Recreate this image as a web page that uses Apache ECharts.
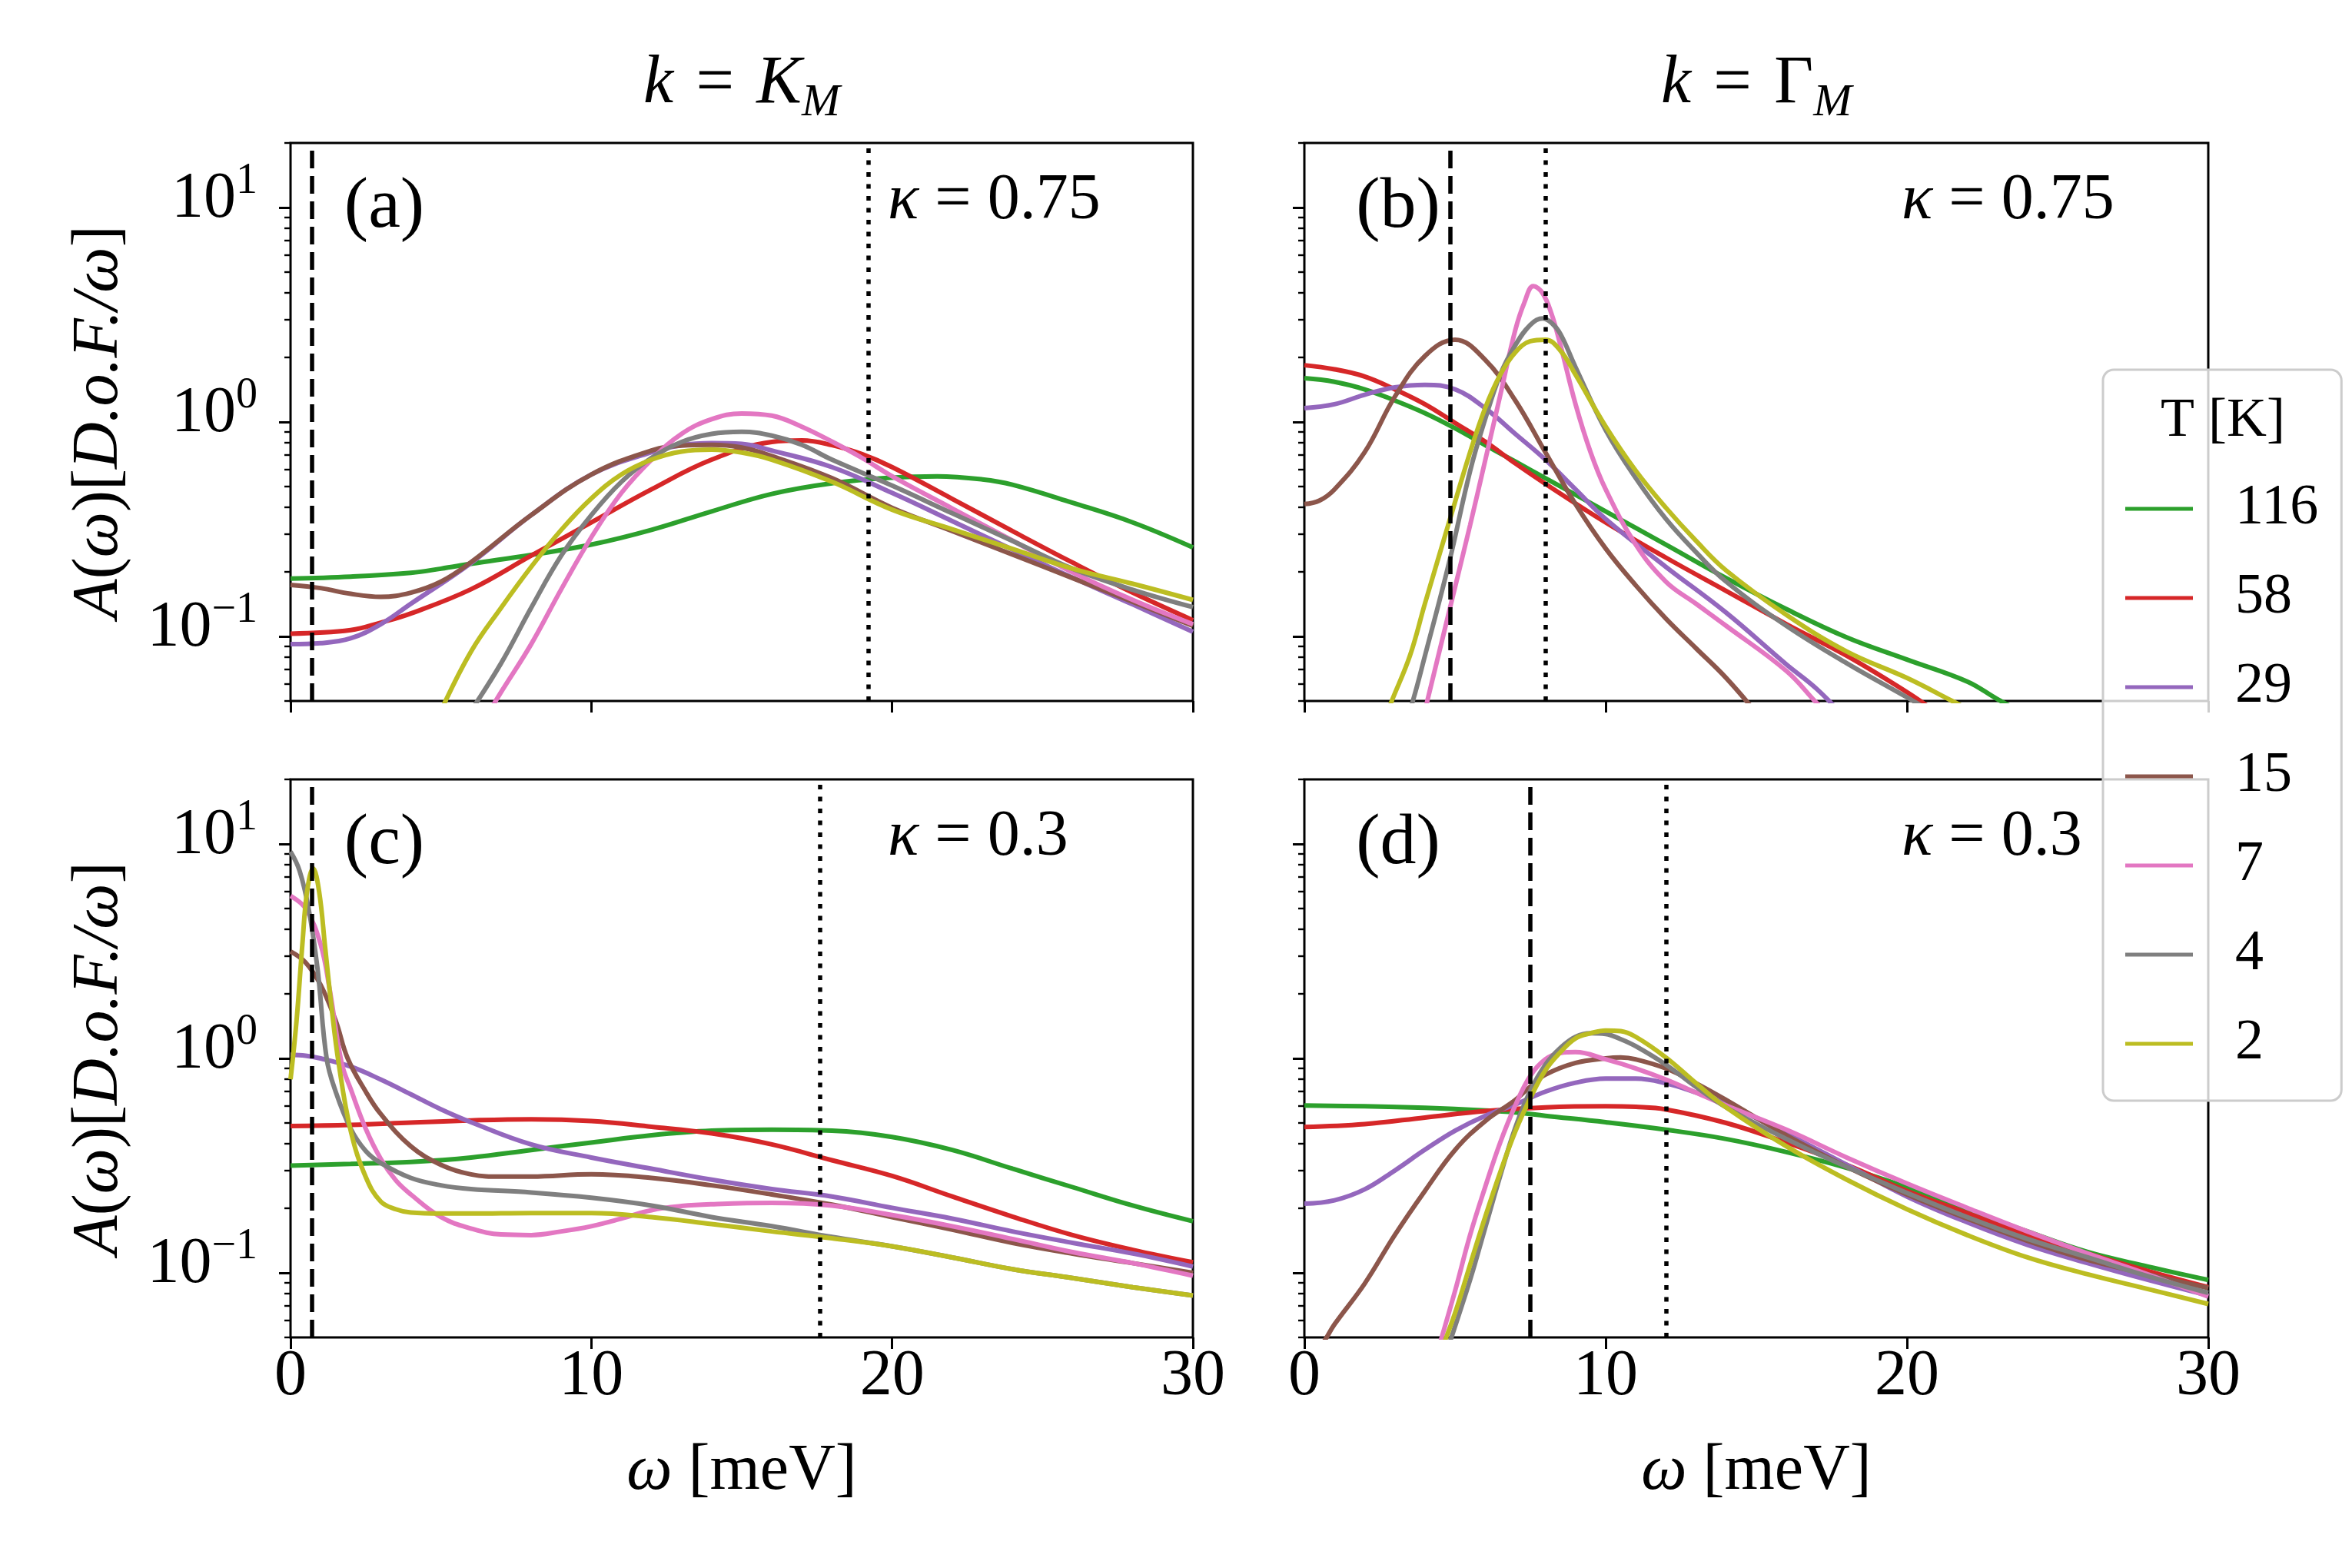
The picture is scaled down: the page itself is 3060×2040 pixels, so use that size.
<!DOCTYPE html>
<html><head><meta charset="utf-8">
<script src="https://cdn.jsdelivr.net/npm/echarts@6/dist/echarts.min.js"></script>
<style>html,body{margin:0;padding:0;background:#fff}#c{width:3060px;height:2040px}</style>
</head><body><div id="c"></div>
<script>
// ---------------- data (omega [meV], A(omega)) ----------------
const temps = ['116','58','29','15','7','4','2'];

// panel (a): k = K_M, kappa = 0.75
const a116 = [[0,0.186],[2,0.19],[4,0.198],[5,0.207],[6,0.218],[8,0.24],[10,0.268],[12,0.314],[14,0.383],[16,0.462],[18,0.518],[20,0.55],[21.5,0.558],[23,0.54],[24,0.51],[26,0.42],[28,0.34],[30,0.26]];
const a58  = [[0,0.103],[2,0.107],[3,0.116],[4,0.128],[6,0.166],[8,0.238],[10,0.34],[12,0.485],[14,0.667],[16,0.807],[17,0.82],[18,0.78],[19,0.708],[20,0.616],[22,0.438],[24,0.31],[26,0.221],[28,0.16],[30,0.119]];
const a29  = [[0,0.092],[1,0.093],[2,0.098],[3,0.114],[4,0.142],[6,0.22],[8,0.368],[10,0.569],[12,0.722],[13,0.78],[14,0.797],[15,0.79],[16,0.736],[18,0.616],[20,0.467],[22,0.345],[24,0.254],[26,0.188],[28,0.141],[30,0.105]];
const a15  = [[0,0.174],[1,0.168],[2,0.158],[3,0.153],[4,0.16],[5,0.18],[6,0.222],[8,0.368],[10,0.569],[12,0.736],[13,0.776],[14,0.782],[15,0.76],[16,0.694],[18,0.547],[20,0.398],[22,0.31],[24,0.241],[26,0.187],[28,0.145],[30,0.112]];
const a7   = [[6.5,0.042],[7,0.055],[8,0.092],[9,0.166],[10,0.29],[11,0.467],[12,0.667],[13,0.88],[14,1.03],[15,1.096],[16,1.07],[17,0.95],[18,0.81],[19,0.68],[20,0.558],[22,0.395],[24,0.28],[26,0.199],[28,0.148],[30,0.114]];
const a4   = [[6,0.045],[7,0.075],[8,0.136],[9,0.238],[10,0.368],[11,0.526],[12,0.68],[13,0.807],[14,0.88],[15,0.9],[16,0.864],[17,0.782],[18,0.667],[20,0.505],[22,0.375],[24,0.279],[26,0.207],[28,0.165],[30,0.137]];
const a2   = [[5,0.045],[6,0.085],[7,0.136],[8,0.211],[9,0.314],[10,0.44],[11,0.569],[12,0.667],[13,0.728],[14,0.743],[15,0.72],[16,0.667],[18,0.526],[20,0.39],[22,0.316],[24,0.256],[26,0.207],[28,0.176],[30,0.148]];

// panel (b): k = Gamma_M, kappa = 0.75
const b116 = [[0,1.6],[1,1.54],[2,1.42],[3,1.26],[4,1.1],[5,0.935],[6,0.78],[7,0.654],[8,0.547],[10,0.383],[12,0.268],[14,0.187],[16,0.134],[18,0.099],[20,0.078],[22,0.0616],[23,0.051],[24,0.043]];
const b58  = [[0,1.84],[1,1.76],[2,1.63],[3,1.42],[4,1.21],[5,0.99],[6,0.81],[7,0.641],[8,0.515],[10,0.34],[12,0.233],[14,0.163],[16,0.114],[18,0.0813],[20,0.055],[21,0.044]];
const b29  = [[0,1.16],[1,1.21],[2,1.34],[3,1.45],[4,1.49],[5,1.42],[6,1.16],[7,0.88],[8,0.667],[9,0.485],[10,0.353],[12,0.211],[14,0.129],[16,0.074],[17,0.057],[18,0.041]];
const b15  = [[0,0.414],[0.5,0.43],[1,0.485],[2,0.722],[3,1.31],[4,2.03],[5,2.42],[6,1.95],[7,1.26],[8,0.722],[9,0.414],[10,0.257],[11,0.173],[12,0.121],[13,0.088],[14,0.064],[15,0.044]];
const b7   = [[4,0.045],[4.8,0.13],[5.5,0.33],[6,0.66],[6.5,1.33],[7,2.68],[7.3,3.6],[7.6,4.3],[7.9,4.0],[8.2,3.2],[8.5,2.28],[9,1.21],[9.5,0.722],[10,0.485],[11,0.268],[12,0.18],[13,0.142],[14,0.112],[16,0.069],[17,0.049],[17.5,0.042]];
const b4   = [[3.4,0.042],[3.6,0.05],[4,0.081],[4.8,0.22],[5.5,0.59],[6,1.03],[6.5,1.66],[7,2.28],[7.5,2.84],[7.9,3.04],[8.2,2.9],[8.5,2.57],[9,1.8],[10,0.916],[11,0.547],[12,0.353],[13,0.247],[14,0.18],[16,0.112],[18,0.075],[20,0.052],[21,0.043]];
const b2   = [[2.7,0.042],[2.9,0.05],[3.5,0.081],[4,0.142],[4.8,0.34],[5.5,0.722],[6,1.16],[6.5,1.66],[7,2.11],[7.5,2.38],[8,2.42],[8.5,2.15],[9,1.66],[10,0.953],[11,0.592],[12,0.398],[13,0.279],[14,0.203],[16,0.126],[18,0.085],[20,0.064],[21.5,0.05],[22,0.046]];

// panel (c): k = K_M, kappa = 0.3
const c116 = [[0,0.316],[2,0.322],[4,0.329],[6,0.345],[8,0.374],[10,0.405],[12,0.438],[14,0.46],[16,0.465],[18,0.46],[20,0.43],[22,0.374],[24,0.306],[26,0.251],[28,0.206],[30,0.174]];
const c58  = [[0,0.484],[2,0.49],[4,0.502],[6,0.514],[8,0.52],[10,0.51],[12,0.48],[14,0.447],[16,0.397],[18,0.335],[20,0.283],[22,0.227],[24,0.183],[26,0.15],[28,0.128],[30,0.112]];
const c29  = [[0,1.04],[0.5,1.03],[1,1.0],[2,0.916],[3,0.797],[4,0.68],[5,0.579],[6,0.504],[8,0.397],[10,0.345],[12,0.306],[14,0.272],[16,0.246],[18,0.227],[20,0.201],[22,0.179],[24,0.156],[26,0.138],[28,0.123],[30,0.107]];
const c15  = [[0,3.15],[0.5,2.8],[1,2.2],[1.5,1.5],[1.9,1.0],[2.5,0.7],[3,0.55],[4,0.389],[5,0.319],[6,0.288],[7,0.281],[8,0.281],[10,0.288],[12,0.277],[14,0.256],[16,0.232],[18,0.208],[20,0.182],[22,0.159],[24,0.138],[26,0.123],[28,0.111],[30,0.1]];
const c7   = [[0,5.72],[0.5,5.0],[1,3.4],[1.3,2.1],[1.7,0.95],[2,0.72],[2.5,0.47],[3,0.34],[3.5,0.27],[4,0.232],[5,0.182],[6,0.161],[7,0.151],[8,0.15],[9,0.156],[10,0.165],[11,0.179],[12,0.196],[13,0.205],[14,0.209],[16,0.212],[18,0.206],[20,0.186],[22,0.165],[24,0.144],[26,0.125],[28,0.111],[30,0.097]];
const c4   = [[0,9.2],[0.3,7.5],[0.6,5.0],[0.9,2.6],[1.2,1.0],[1.5,0.7],[2,0.47],[2.5,0.37],[3,0.325],[4,0.277],[5,0.256],[6,0.246],[8,0.237],[10,0.224],[12,0.206],[14,0.182],[16,0.165],[18,0.147],[20,0.133],[22,0.118],[24,0.104],[26,0.0946],[28,0.0857],[30,0.0784]];
const c2   = [[0,0.8],[0.2,1.5],[0.4,3.5],[0.55,6.0],[0.75,7.7],[0.95,6.0],[1.15,3.3],[1.35,1.8],[1.6,0.95],[2,0.46],[2.5,0.28],[3,0.215],[3.5,0.198],[4,0.191],[5,0.189],[6,0.189],[8,0.19],[10,0.19],[12,0.182],[14,0.169],[16,0.156],[18,0.145],[20,0.133],[22,0.118],[24,0.104],[26,0.0946],[28,0.0857],[30,0.0784]];

// panel (d): k = Gamma_M, kappa = 0.3
const d116 = [[0,0.603],[2,0.598],[4,0.588],[6,0.572],[7,0.56],[8,0.54],[10,0.504],[12,0.465],[14,0.421],[16,0.366],[18,0.309],[20,0.251],[22,0.198],[24,0.156],[26,0.125],[28,0.107],[30,0.0927]];
const d58  = [[0,0.479],[2,0.494],[4,0.53],[6,0.568],[8,0.591],[10,0.598],[11,0.594],[12,0.578],[14,0.5],[16,0.405],[18,0.319],[20,0.241],[22,0.19],[24,0.15],[26,0.123],[28,0.102],[30,0.0857]];
const d29  = [[0,0.21],[1,0.218],[2,0.245],[3,0.3],[4,0.375],[5,0.46],[6,0.54],[7,0.61],[8,0.7],[9,0.77],[10,0.805],[11,0.805],[12,0.766],[13,0.693],[14,0.615],[16,0.447],[18,0.319],[20,0.227],[22,0.172],[24,0.135],[26,0.111],[28,0.0927],[30,0.0784]];
const d15  = [[0.2,0.038],[0.7,0.049],[1,0.0575],[2,0.089],[3,0.15],[4,0.241],[5,0.374],[6,0.51],[7,0.64],[7.5,0.74],[8,0.84],[9,0.953],[10,1.0],[10.5,1.01],[11,0.99],[12,0.898],[13,0.766],[14,0.64],[16,0.438],[18,0.312],[20,0.232],[22,0.179],[24,0.141],[26,0.115],[28,0.0984],[30,0.085]];
const d7   = [[4.4,0.042],[5,0.0822],[5.5,0.15],[6,0.251],[6.5,0.405],[7,0.603],[7.5,0.83],[8,0.99],[8.5,1.06],[9,1.07],[10,0.99],[11,0.898],[12,0.797],[13,0.693],[14,0.603],[16,0.465],[18,0.345],[20,0.261],[22,0.201],[24,0.156],[26,0.123],[28,0.0984],[30,0.0775]];
const d4   = [[4.7,0.042],[5.5,0.0927],[6,0.162],[6.5,0.283],[7,0.475],[7.5,0.707],[8,0.935],[8.5,1.12],[9,1.26],[9.5,1.31],[10,1.3],[10.5,1.23],[11,1.14],[12,0.935],[13,0.736],[14,0.591],[16,0.421],[18,0.312],[20,0.236],[22,0.182],[24,0.144],[26,0.118],[28,0.0965],[30,0.0807]];
const d2   = [[4.5,0.042],[5,0.0648],[5.5,0.109],[6,0.182],[6.5,0.294],[7,0.456],[7.5,0.653],[8,0.881],[8.5,1.07],[9,1.24],[9.5,1.31],[10,1.35],[10.5,1.34],[11,1.26],[12,1.01],[13,0.766],[14,0.591],[16,0.389],[18,0.272],[20,0.198],[22,0.15],[24,0.118],[26,0.0984],[28,0.084],[30,0.0716]];

// reference lines (omega positions)
const dashX = [0.7, 4.85, 0.7, 7.5];
const dotX  = [19.2, 8.0, 17.6, 12.0];

// axis ticks
const xMin = 0, xMax = 30, xStep = 10;
const yMin = 0.05, yMax = 20;
const yMajorTicks = [0.1, 1, 10];
const yMinorTicks = [0.05,0.06,0.07,0.08,0.09,0.2,0.3,0.4,0.5,0.6,0.7,0.8,0.9,2,3,4,5,6,7,8,9,20];

// text
const panelLetters = ['(a)','(b)','(c)','(d)'];
const kappaValues = ['0.75','0.75','0.3','0.3'];

// ---------------- styling / layout ----------------
const panels = [
  [a116,a58,a29,a15,a7,a4,a2],
  [b116,b58,b29,b15,b7,b4,b2],
  [c116,c58,c29,c15,c7,c4,c2],
  [d116,d58,d29,d15,d7,d4,d2]
];
const palette = ['#2ca02c','#d62728','#9467bd','#8c564b','#e377c2','#7f7f7f','#bcbd22'];
const FF = 'Liberation Serif';
const rects = [
  {left:378, top:186, width:1174, height:726},
  {left:1697, top:186, width:1176, height:726},
  {left:378, top:1014, width:1174, height:726},
  {left:1697, top:1014, width:1176, height:726}
];

const supRich = {
  b: {fontFamily:FF, fontSize:84, lineHeight:84, padding:[0,0,10,0], verticalAlign:'bottom', color:'#000'},
  s: {fontFamily:FF, fontSize:56, lineHeight:56, padding:[0,0,48,0], verticalAlign:'bottom', color:'#000'}
};
function powFmt(v){
  const e = Math.round(Math.log10(v));
  return '{b|10}{s|' + (e < 0 ? '\u2212' + (-e) : String(e)) + '}';
}

const grid = rects.map(r => Object.assign({}, r, {
  show:true, borderColor:'#000', borderWidth:3, backgroundColor:'transparent',
  containLabel:false, outerBoundsMode:'none'
}));

const xAxis = [0,1,2,3].map(i => ({
  type:'value', gridIndex:i, min:xMin, max:xMax, interval:xStep,
  axisLine:{show:false}, splitLine:{show:false},
  axisTick:{show:true, inside:false, length:15, lineStyle:{color:'#000', width:3}},
  axisLabel:{show:i>=2, margin:10, color:'#000', fontFamily:FF, fontSize:84}
}));

const yAxis = [];
[0,1,2,3].forEach(i => {
  yAxis.push({
    type:'log', logBase:10, gridIndex:i, min:yMin, max:yMax, position:'left',
    axisLine:{show:false}, splitLine:{show:false}, minorTick:{show:false},
    axisTick:{show:true, inside:false, length:15, lineStyle:{color:'#000', width:3}, customValues:yMajorTicks},
    axisLabel:{show:i%2===0, customValues:yMajorTicks, margin:43, formatter:powFmt, rich:supRich, color:'#000'}
  });
});
[0,1,2,3].forEach(i => {
  yAxis.push({
    type:'log', logBase:10, gridIndex:i, min:yMin, max:yMax, position:'left',
    axisLine:{show:false}, splitLine:{show:false}, axisLabel:{show:false},
    axisTick:{show:true, inside:false, length:8, lineStyle:{color:'#000', width:2.4}, customValues:yMinorTicks}
  });
});

const series = [];
panels.forEach((arrs, p) => {
  arrs.forEach((d, k) => {
    const s = {
      type:'line', name:temps[k], xAxisIndex:p, yAxisIndex:p, data:d,
      symbol:'none', showSymbol:false, smooth:0.4, clip:true, silent:true,
      lineStyle:{width:6, color:palette[k]}, itemStyle:{color:palette[k]},
      emphasis:{disabled:true}
    };
    if (k === arrs.length - 1) {
      s.markLine = {
        silent:true, symbol:['none','none'], label:{show:false}, emphasis:{disabled:true},
        data:[
          {xAxis:dashX[p], lineStyle:{color:'#000', width:5.5, type:[23,10], opacity:1}},
          {xAxis:dotX[p], lineStyle:{color:'#000', width:5.5, type:[6,9.5], opacity:1}}
        ]
      };
    }
    series.push(s);
  });
});

const titleRich = {
  i: {fontFamily:FF, fontStyle:'italic', fontSize:88, lineHeight:88, padding:[0,0,10,0], verticalAlign:'bottom', fill:'#000'},
  n: {fontFamily:FF, fontSize:88, lineHeight:88, padding:[0,0,10,0], verticalAlign:'bottom', fill:'#000'},
  s: {fontFamily:FF, fontStyle:'italic', fontSize:60, lineHeight:60, padding:[38,0,0,0], verticalAlign:'bottom', fill:'#000'}
};
const txtRich = {
  i: {fontFamily:FF, fontStyle:'italic', fontSize:84, fill:'#000'},
  n: {fontFamily:FF, fontSize:84, fill:'#000'}
};

const graphic = [];
graphic.push({type:'text', x:965, y:120, style:{text:'{i|k}{n|\u2004=\u2004}{i|K}{s|M}', rich:titleRich, align:'center', verticalAlign:'middle'}});
graphic.push({type:'text', x:2285, y:120, style:{text:'{i|k}{n|\u2004=\u2004\u0393}{s|M}', rich:titleRich, align:'center', verticalAlign:'middle'}});
rects.forEach((r, p) => {
  graphic.push({type:'text', x:r.left+122, y:r.top+84, style:{text:panelLetters[p], fontFamily:FF, fontSize:94, fill:'#000', align:'center', verticalAlign:'middle'}});
  graphic.push({type:'text', x:r.left+777, y:r.top+76, style:{text:'{i|\u03ba}{n| = ' + kappaValues[p] + '}', rich:txtRich, align:'left', verticalAlign:'middle'}});
});
[549, 1377].forEach(y => {
  graphic.push({type:'text', x:130, y:y, rotation:Math.PI/2, style:{text:'{i|A}{n|(}{i|\u03c9}{n|)[}{i|D.o.F./\u03c9}{n|]}', rich:txtRich, align:'center', verticalAlign:'middle'}});
});
[965, 2285].forEach(x => {
  graphic.push({type:'text', x:x, y:1915, style:{text:'{i|\u03c9}{n| [meV]}', rich:txtRich, align:'center', verticalAlign:'middle'}});
});
graphic.push({type:'text', x:2892, y:548, z:100, style:{text:'T [K]', fontFamily:FF, fontSize:72, fill:'#000', align:'center', verticalAlign:'middle'}});

const option = {
  animation:false,
  backgroundColor:'#fff',
  grid, xAxis, yAxis, series, graphic,
  legend:{
    data:temps, orient:'vertical', left:2736, top:481,
    icon:'rect', itemWidth:88, itemHeight:5, itemGap:36,
    padding:[141,30,34,29],
    backgroundColor:'rgba(255,255,255,0.8)', borderColor:'#cccccc', borderWidth:3, borderRadius:14,
    textStyle:{fontFamily:FF, fontSize:74, lineHeight:80, color:'#000', padding:[0,0,0,50]},
    selectedMode:false, z:20
  }
};

const chart = echarts.init(document.getElementById('c'), null, {renderer:'canvas', width:3060, height:2040});
chart.setOption(option);
</script>
</body></html>
